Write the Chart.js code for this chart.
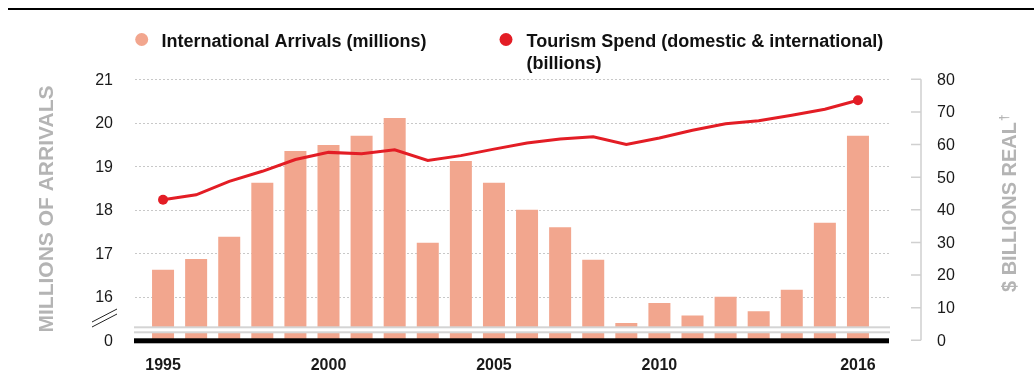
<!DOCTYPE html>
<html>
<head>
<meta charset="utf-8">
<script src="https://cdn.jsdelivr.net/npm/chart.js@4/dist/chart.umd.min.js"></script>
<style>
  body { margin:0; background:#fff; }
  #wrap { width:1034px; height:385px; position:relative; }
</style>
</head>
<body>
<div id="wrap"><canvas id="chart"></canvas></div>
<script>
// data
const years = ['1995','1996','1997','1998','1999','2000','2001','2002','2003','2004','2005',
               '2006','2007','2008','2009','2010','2011','2012','2013','2014','2015','2016'];
const arrivals = [16.62,16.87,17.38,18.62,19.35,19.49,19.70,20.11,17.24,19.12,18.62,
                  18.00,17.60,16.85,15.40,15.86,15.57,16.00,15.67,16.16,17.70,19.70];
const spend = [43.1,44.6,48.7,51.8,55.4,57.6,57.2,58.4,55.1,56.6,58.6,
               60.5,61.7,62.4,60.0,62.0,64.4,66.4,67.3,69.0,70.8,73.6];
const shownYears = ['1995','2000','2005','2010','2016'];
const leftTicks = [16,17,18,19,20,21];
const rightTicks = [0,10,20,30,40,50,60,70,80];

const barColor = '#f2a68e';
const lineColor = '#e31d25';
const FONT = '"Liberation Sans", Arial, Helvetica, sans-serif';

// axes, grid, axis break, legend and titles
const decor = {
    id:'decor',
    beforeDatasetsDraw(chart){
        const ctx = chart.ctx, yL = chart.scales.yL;
        ctx.save();
        ctx.strokeStyle = '#c8c8c8';
        ctx.lineWidth = 1;
        ctx.setLineDash([2,2]);
        leftTicks.forEach(v=>{
            const y = Math.round(yL.getPixelForValue(v)) + 0.5;
            ctx.beginPath(); ctx.moveTo(135,y); ctx.lineTo(890,y); ctx.stroke();
        });
        ctx.restore();
    },
    afterDatasetsDraw(chart){
        const ctx = chart.ctx, a = chart.chartArea;
        ctx.save();
        // break in the bars
        ctx.fillStyle = '#fff';
        ctx.fillRect(134, a.bottom-13, 757, 5);
        ctx.fillStyle = '#d4d4d4';
        ctx.fillRect(134, a.bottom-14, 756, 2);
        ctx.fillRect(134, a.bottom-9, 756, 2);
        // baseline
        ctx.fillStyle = '#000';
        ctx.fillRect(134, a.bottom-2, 755, 5);
        ctx.restore();
    },
    afterDraw(chart){
        const ctx = chart.ctx, yL = chart.scales.yL, yR = chart.scales.yR, x = chart.scales.x;
        ctx.save();
        // top rule
        ctx.fillStyle = '#000';
        ctx.fillRect(8, 8, 1026, 2);

        // left ticks
        ctx.fillStyle = '#1a1a1a';
        ctx.font = '16px ' + FONT;
        ctx.textAlign = 'right';
        ctx.textBaseline = 'middle';
        leftTicks.forEach(v=> ctx.fillText(String(v), 113, yL.getPixelForValue(v)+1));
        ctx.fillText('0', 113, yL.getPixelForValue(yL.min)+1);

        // break mark
        ctx.strokeStyle = '#222';
        ctx.lineWidth = 1;
        ctx.beginPath();
        ctx.moveTo(92,322); ctx.lineTo(117,309);
        ctx.moveTo(92,327); ctx.lineTo(117,314);
        ctx.stroke();

        // right axis
        ctx.strokeStyle = '#d0d0d0';
        ctx.lineWidth = 1.5;
        ctx.beginPath();
        ctx.moveTo(921, yR.getPixelForValue(80)); ctx.lineTo(921, yR.getPixelForValue(0));
        rightTicks.forEach(v=>{
            const y = yR.getPixelForValue(v);
            ctx.moveTo(911,y); ctx.lineTo(921,y);
        });
        ctx.stroke();
        ctx.textAlign = 'left';
        rightTicks.forEach(v=> ctx.fillText(String(v), 937, yR.getPixelForValue(v)+1));

        // x labels
        ctx.font = 'bold 16px ' + FONT;
        ctx.textAlign = 'center';
        shownYears.forEach(yr=>{
            ctx.fillText(yr, x.getPixelForValue(years.indexOf(yr)), 366);
        });

        // axis titles
        ctx.fillStyle = '#b4b4b4';
        ctx.font = 'bold 21px ' + FONT;
        ctx.save();
        ctx.translate(53, 209);
        ctx.rotate(-Math.PI/2);
        ctx.textBaseline = 'alphabetic';
        ctx.fillText('MILLIONS OF ARRIVALS', 0, 0);
        ctx.restore();

        ctx.save();
        ctx.translate(1016, 203);
        ctx.rotate(-Math.PI/2);
        ctx.textBaseline = 'alphabetic';
        ctx.font = 'bold 20px ' + FONT;
        const t = '$ BILLIONS REAL';
        const w = ctx.measureText(t).width;
        ctx.textAlign = 'left';
        ctx.fillText(t, -w/2 - 4, 0);
        ctx.font = 'bold 12px ' + FONT;
        ctx.fillText('\u2020', w/2 - 3, -8);
        ctx.restore();

        // legend
        ctx.fillStyle = barColor;
        ctx.beginPath(); ctx.arc(141.7, 39.5, 6.5, 0, Math.PI*2); ctx.fill();
        ctx.fillStyle = lineColor;
        ctx.beginPath(); ctx.arc(506, 39.5, 6.5, 0, Math.PI*2); ctx.fill();
        ctx.fillStyle = '#111';
        ctx.font = 'bold 18px ' + FONT;
        ctx.textAlign = 'left';
        ctx.textBaseline = 'alphabetic';
        ctx.fillText('International Arrivals (millions)', 161.5, 46.5);
        ctx.fillText('Tourism Spend (domestic & international)', 526.5, 46.5);
        ctx.fillText('(billions)', 526.5, 69);
        ctx.restore();
    }
};

const lastIdx = spend.length - 1;

new Chart(document.getElementById('chart'), {
    type:'bar',
    data:{
        labels: years,
        datasets:[
            {
                type:'line',
                label:'Tourism Spend (domestic & international) (billions)',
                data: spend,
                yAxisID:'yR',
                borderColor: lineColor,
                backgroundColor: lineColor,
                borderWidth: 3,
                pointRadius: c => (c.dataIndex===0 || c.dataIndex===lastIdx) ? 5 : 0,
                pointBorderWidth: 0,
                tension: 0,
                order: 0
            },
            {
                label:'International Arrivals (millions)',
                data: arrivals,
                yAxisID:'yL',
                backgroundColor: barColor,
                barPercentage: 0.665,
                categoryPercentage: 1,
                order: 1
            }
        ]
    },
    options:{
        responsive:true,
        maintainAspectRatio:false,
        animation:false,
        layout:{ padding:{ left:146.5, right:159.5, top:79.3, bottom:44.7 } },
        plugins:{ legend:{display:false}, tooltip:{enabled:false} },
        scales:{
            x:{ display:false, offset:true },
            yL:{ display:false, position:'left', min:15, max:21 },
            yR:{ display:false, position:'right', min:0, max:80 }
        }
    },
    plugins:[decor]
});
</script>
</body>
</html>
